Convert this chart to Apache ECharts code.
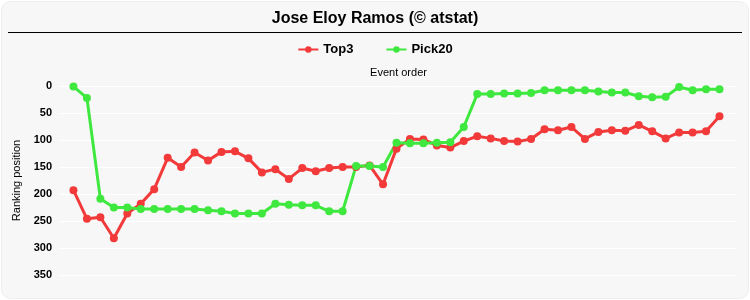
<!DOCTYPE html>
<html>
<head>
<meta charset="utf-8">
<script src="https://cdn.jsdelivr.net/npm/echarts@6/dist/echarts.min.js"></script>
<style>
html,body{margin:0;padding:0;background:#ffffff;}
#chart{width:750px;height:300px;}
</style>
</head>
<body>
<div id="chart"></div>
<script>
var titleText = 'Jose Eloy Ramos (\u00a9 atstat)';
var seriesNames = ['Top3', 'Pick20'];
var events = [1,2,3,4,5,6,7,8,9,10,11,12,13,14,15,16,17,18,19,20,21,22,23,24,25,26,27,28,29,30,31,32,33,34,35,36,37,38,39,40,41,42,43,44,45,46,47,48,49];
var top3 = [193,246,243,282,236,218,191,133,150,123,138,122,121,134,160,154,172,152,158,152,150,150,147,182,116,98,99,110,114,102,93,97,102,103,98,80,82,76,98,85,82,83,72,84,97,86,86,84,56];
var pick20 = [1,22,209,225,225,228,228,228,228,228,230,232,236,236,236,218,220,221,221,232,232,148,148,150,105,106,106,105,104,76,15,15,14,14,13,8,8,8,8,10,12,12,19,21,20,2,8,6,6];
var yTicks = [0,50,100,150,200,250,300,350];

function pairs(arr){ return arr.map(function(v,i){ return [events[i], v]; }); }

var chart = echarts.init(document.getElementById('chart'), null, {renderer:'canvas'});
chart.setOption({
  animation:false,
  backgroundColor:'#ffffff',
  graphic:[
    {type:'rect', shape:{x:1.5,y:1.5,width:747,height:297,r:9}, style:{fill:'#f7f7f7',stroke:'#eeeeee',lineWidth:1}, z:-10},
    {type:'line', shape:{x1:8,y1:32.5,x2:742,y2:32.5}, style:{stroke:'#000000',lineWidth:1.2}, z:10}
  ],
  title:{
    text:titleText, left:'center', top:6,
    textStyle:{fontFamily:'Liberation Sans, Arial, sans-serif', fontSize:16, fontWeight:'bold', color:'#000'}
  },
  legend:{
    data:seriesNames, top:38, left:'center', itemGap:32, itemWidth:20, itemHeight:8,
    textStyle:{fontFamily:'Liberation Sans, Arial, sans-serif', fontSize:13, fontWeight:'bold', color:'#000'}
  },
  grid:{left:60, right:13, top:86, bottom:25, containLabel:false},
  xAxis:{
    type:'value', position:'top', min:0, max:50.3,
    name:'Event order', nameLocation:'middle', nameGap:8,
    nameTextStyle:{fontFamily:'Liberation Sans, Arial, sans-serif', fontSize:11, color:'#000'},
    axisLine:{show:false}, axisTick:{show:false}, axisLabel:{show:false}, splitLine:{show:false}
  },
  yAxis:{
    type:'value', inverse:true, min:yTicks[0], max:yTicks[yTicks.length-1], interval:50,
    name:'Ranking position', nameLocation:'middle', nameGap:37, nameRotate:90,
    nameTextStyle:{fontFamily:'Liberation Sans, Arial, sans-serif', fontSize:11, color:'#000'},
    axisLine:{show:false}, axisTick:{show:false},
    axisLabel:{fontFamily:'Liberation Sans, Arial, sans-serif', fontSize:11, fontWeight:'bold', color:'#000', margin:8},
    splitLine:{show:true, lineStyle:{color:'#ffffff', width:1}}
  },
  series:[
    {name:seriesNames[0], type:'line', data:pairs(top3), color:'#f23a3a',
     lineStyle:{width:3}, symbol:'circle', symbolSize:8, itemStyle:{color:'#f23a3a'}},
    {name:seriesNames[1], type:'line', data:pairs(pick20), color:'#3ee83e',
     lineStyle:{width:3}, symbol:'circle', symbolSize:8, itemStyle:{color:'#3ee83e'}}
  ]
});
</script>
</body>
</html>
